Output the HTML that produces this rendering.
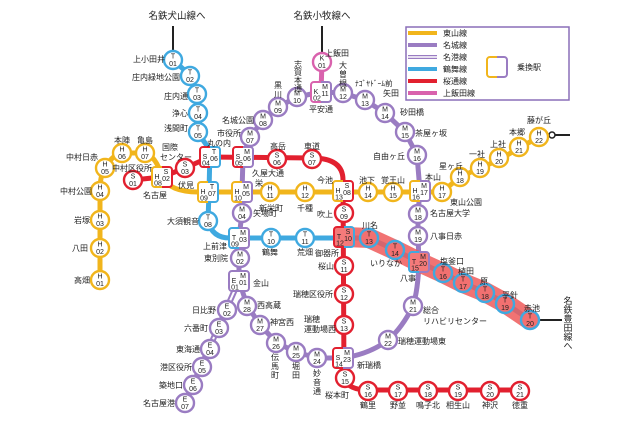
<!DOCTYPE html>
<html><head><meta charset="utf-8"><style>
html,body{margin:0;padding:0;background:#fff}
svg{display:block}
text{font-family:"Liberation Sans","Noto Sans CJK JP",sans-serif;fill:#222}
.st text{font-size:7px;text-anchor:middle;fill:#222}
.st circle{fill:#fff;stroke-width:2.4}
.bx rect{fill:#fff;stroke-width:2}
.bx text{font-size:7px;text-anchor:middle}
.L{font-size:8px}
.m{text-anchor:middle}.e{text-anchor:end}
.y{stroke:#f1b51c}.p{stroke:#9a7cc2}.b{stroke:#3fa9e0}.r{stroke:#e2202f}.k{stroke:#d962ad}
</style></head><body>
<svg width="640" height="426" viewBox="0 0 640 426" xmlns="http://www.w3.org/2000/svg">
<defs>
<linearGradient id="gbr" x1="0" x2="1"><stop offset=".5" stop-color="#e2202f"/><stop offset=".5" stop-color="#3fa9e0"/></linearGradient>
<linearGradient id="gyr" x1="0" x2="1"><stop offset=".5" stop-color="#f1b51c"/><stop offset=".5" stop-color="#e2202f"/></linearGradient>
<linearGradient id="grp" x1="0" x2="1"><stop offset=".5" stop-color="#e2202f"/><stop offset=".5" stop-color="#9a7cc2"/></linearGradient>
<linearGradient id="gyb" x1="0" x2="1"><stop offset=".5" stop-color="#f1b51c"/><stop offset=".5" stop-color="#3fa9e0"/></linearGradient>
<linearGradient id="gyp" x1="0" x2="1"><stop offset=".5" stop-color="#f1b51c"/><stop offset=".5" stop-color="#9a7cc2"/></linearGradient>
<linearGradient id="gkp" x1="0" x2="1"><stop offset=".5" stop-color="#d962ad"/><stop offset=".5" stop-color="#9a7cc2"/></linearGradient>
<linearGradient id="gyr2" x1="0" x2="1"><stop offset=".5" stop-color="#f1b51c"/><stop offset=".5" stop-color="#e2202f"/></linearGradient>
<linearGradient id="gbp" x1="0" x2="1"><stop offset=".5" stop-color="#3fa9e0"/><stop offset=".5" stop-color="#9a7cc2"/></linearGradient>
<linearGradient id="grp2" x1="0" x2="1"><stop offset=".5" stop-color="#e2202f"/><stop offset=".5" stop-color="#9a7cc2"/></linearGradient>
</defs>

<line x1="173" y1="26" x2="173" y2="52" stroke="#222" stroke-width="2"/>
<line x1="322" y1="26" x2="322" y2="54" stroke="#222" stroke-width="2"/>
<line x1="539" y1="320" x2="562" y2="320" stroke="#222" stroke-width="2"/>
<line x1="548" y1="135" x2="570" y2="135" stroke="#222" stroke-width="2"/>
<circle cx="552" cy="135" r="3" fill="#fff" stroke="#222" stroke-width="1.5"/>
<text x="177" y="19" class="m" style="font-size:9.5px">名鉄犬山線へ</text>
<text x="322" y="19" class="m" style="font-size:9.5px">名鉄小牧線へ</text>
<g style="font-size:9px" class="m">
<text x="568" y="304">名</text><text x="568" y="313">鉄</text><text x="568" y="322">豊</text><text x="568" y="331">田</text><text x="568" y="340">線</text><text x="568" y="349">へ</text>
</g>

<g fill="none" stroke-linejoin="round" stroke-linecap="round">
<path class="y" stroke-width="5" d="M100,280 L100,191 Q100,175 105,168 Q112,155 122,153 L145,153 Q156,156 162,177 Q170,192 198,192 L442,192 L460,177 L480,168 L499,160 L519,148 L539,137"/>
<path class="p" stroke-width="5" d="M239,281 L239,238 L242,213 L242,192 L243,157 L250,137 L263,120 L278,107 L297,97 L321,92 L343,93 L365,100 L385,113 L405,132 L417,155 L420,191 L418,213 L418,237 L419,262 Q418,290 413,306 Q402,328 388,340 Q370,354 343,358 L318,358 L295,352 L276,342 L260,325 L247,305 L239,281"/>
<path stroke="#9a7cc2" stroke-width="6" d="M237,285 L185,403"/>
<path stroke="#fff" stroke-width="2" d="M237,285 L185,403"/>
<path class="b" stroke-width="5" d="M173,60 L190,75 L197,93 L198,113 L198,133 L210,150 L209,192 L208,221 Q212,238 230,238 L344,238 L369,238 L395,250 L419,262 L443,273 L463,283 L485,292 L505,303 L530,320"/>
<path class="r" stroke-width="5" d="M133,180 L162,177 L185,168 L210,157 L312,158 Q343,158 343,180 L344,378 Q348,390 368,390 L520,390"/>
<path class="k" stroke-width="5" d="M322,62 L321,92"/>
<path stroke="#ef5a5a" stroke-opacity=".85" stroke-width="20" d="M346,237 L369,238 L395,250 L419,262 L443,273 L463,283 L485,292 L505,303 L530,320"/>
</g>

<rect x="406" y="27" width="163" height="73" fill="#fff" stroke="#8a6fb8" stroke-width="1.5"/>
<g stroke-width="4">
<line x1="408" y1="33" x2="437" y2="33" class="y"/>
<line x1="408" y1="45" x2="437" y2="45" class="p"/>
<line x1="408" y1="57" x2="437" y2="57" stroke="#9a7cc2" stroke-width="4"/>
<line x1="408" y1="57" x2="437" y2="57" stroke="#fff" stroke-width="1.5"/>
<line x1="408" y1="69" x2="437" y2="69" class="b"/>
<line x1="408" y1="81" x2="437" y2="81" class="r"/>
<line x1="408" y1="93" x2="437" y2="93" class="k"/>
</g>
<g class="L"><text x="443" y="36">東山線</text><text x="443" y="48">名城線</text><text x="443" y="60">名港線</text><text x="443" y="72">鶴舞線</text><text x="443" y="84">桜通線</text><text x="443" y="96">上飯田線</text><text x="517" y="70">乗換駅</text></g>
<rect x="487" y="57" width="20" height="20" rx="3" fill="#fff" stroke="url(#gyp)" stroke-width="2"/>

<g class="st">
<g transform="translate(173,60)"><circle r="9" class="b"/><text y="-1.5">T</text><text y="6">01</text></g>
<g transform="translate(190,76)"><circle r="9" class="b"/><text y="-1.5">T</text><text y="6">02</text></g>
<g transform="translate(197,94)"><circle r="9" class="b"/><text y="-1.5">T</text><text y="6">03</text></g>
<g transform="translate(198,113)"><circle r="9" class="b"/><text y="-1.5">T</text><text y="6">04</text></g>
<g transform="translate(198,132)"><circle r="9" class="b"/><text y="-1.5">T</text><text y="6">05</text></g>
<g transform="translate(208,221)"><circle r="9" class="b"/><text y="-1.5">T</text><text y="6">08</text></g>
<g transform="translate(271,238)"><circle r="9" class="b"/><text y="-1.5">T</text><text y="6">10</text></g>
<g transform="translate(305,238)"><circle r="9" class="b"/><text y="-1.5">T</text><text y="6">11</text></g>
<g transform="translate(369,238)"><circle r="9" class="b" style="fill:#f27070"/><text y="-1.5">T</text><text y="6">13</text></g>
<g transform="translate(395,250)"><circle r="9" class="b" style="fill:#f27070"/><text y="-1.5">T</text><text y="6">14</text></g>
<g transform="translate(443,273)"><circle r="9" class="b" style="fill:#f27070"/><text y="-1.5">T</text><text y="6">16</text></g>
<g transform="translate(463,283)"><circle r="9" class="b" style="fill:#f27070"/><text y="-1.5">T</text><text y="6">17</text></g>
<g transform="translate(485,293)"><circle r="9" class="b" style="fill:#f27070"/><text y="-1.5">T</text><text y="6">18</text></g>
<g transform="translate(505,304)"><circle r="9" class="b" style="fill:#f27070"/><text y="-1.5">T</text><text y="6">19</text></g>
<g transform="translate(530,320)"><circle r="9" class="b" style="fill:#f27070"/><text y="-1.5">T</text><text y="6">20</text></g>

<g transform="translate(100,280)"><circle r="9" class="y"/><text y="-1.5">H</text><text y="6">01</text></g>
<g transform="translate(100,248)"><circle r="9" class="y"/><text y="-1.5">H</text><text y="6">02</text></g>
<g transform="translate(100,220)"><circle r="9" class="y"/><text y="-1.5">H</text><text y="6">03</text></g>
<g transform="translate(100,191)"><circle r="9" class="y"/><text y="-1.5">H</text><text y="6">04</text></g>
<g transform="translate(105,168)"><circle r="9" class="y"/><text y="-1.5">H</text><text y="6">05</text></g>
<g transform="translate(122,153)"><circle r="9" class="y"/><text y="-1.5">H</text><text y="6">06</text></g>
<g transform="translate(145,153)"><circle r="9" class="y"/><text y="-1.5">H</text><text y="6">07</text></g>
<g transform="translate(270,192)"><circle r="9" class="y"/><text y="-1.5">H</text><text y="6">11</text></g>
<g transform="translate(305,192)"><circle r="9" class="y"/><text y="-1.5">H</text><text y="6">12</text></g>
<g transform="translate(368,192)"><circle r="9" class="y"/><text y="-1.5">H</text><text y="6">14</text></g>
<g transform="translate(393,192)"><circle r="9" class="y"/><text y="-1.5">H</text><text y="6">15</text></g>
<g transform="translate(442,192)"><circle r="9" class="y"/><text y="-1.5">H</text><text y="6">17</text></g>
<g transform="translate(460,177)"><circle r="9" class="y"/><text y="-1.5">H</text><text y="6">18</text></g>
<g transform="translate(480,168)"><circle r="9" class="y"/><text y="-1.5">H</text><text y="6">19</text></g>
<g transform="translate(499,158)"><circle r="9" class="y"/><text y="-1.5">H</text><text y="6">20</text></g>
<g transform="translate(519,147)"><circle r="9" class="y"/><text y="-1.5">H</text><text y="6">21</text></g>
<g transform="translate(539,137)"><circle r="9" class="y"/><text y="-1.5">H</text><text y="6">22</text></g>

<g transform="translate(133,180)"><circle r="9" class="r"/><text y="-1.5">S</text><text y="6">01</text></g>
<g transform="translate(185,168)"><circle r="9" class="r"/><text y="-1.5">S</text><text y="6">03</text></g>
<g transform="translate(277,159)"><circle r="9" class="r"/><text y="-1.5">S</text><text y="6">06</text></g>
<g transform="translate(312,159)"><circle r="9" class="r"/><text y="-1.5">S</text><text y="6">07</text></g>
<g transform="translate(344,213)"><circle r="9" class="r"/><text y="-1.5">S</text><text y="6">09</text></g>
<g transform="translate(344,266)"><circle r="9" class="r"/><text y="-1.5">S</text><text y="6">11</text></g>
<g transform="translate(344,294)"><circle r="9" class="r"/><text y="-1.5">S</text><text y="6">12</text></g>
<g transform="translate(344,325)"><circle r="9" class="r"/><text y="-1.5">S</text><text y="6">13</text></g>
<g transform="translate(345,378)"><circle r="9" class="r"/><text y="-1.5">S</text><text y="6">15</text></g>
<g transform="translate(368,391)"><circle r="9" class="r"/><text y="-1.5">S</text><text y="6">16</text></g>
<g transform="translate(398,391)"><circle r="9" class="r"/><text y="-1.5">S</text><text y="6">17</text></g>
<g transform="translate(428,391)"><circle r="9" class="r"/><text y="-1.5">S</text><text y="6">18</text></g>
<g transform="translate(458,391)"><circle r="9" class="r"/><text y="-1.5">S</text><text y="6">19</text></g>
<g transform="translate(490,391)"><circle r="9" class="r"/><text y="-1.5">S</text><text y="6">20</text></g>
<g transform="translate(520,391)"><circle r="9" class="r"/><text y="-1.5">S</text><text y="6">21</text></g>

<g transform="translate(240,258)"><circle r="9" class="p"/><text y="-1.5">M</text><text y="6">02</text></g>
<g transform="translate(242,213)"><circle r="9" class="p"/><text y="-1.5">M</text><text y="6">04</text></g>
<g transform="translate(250,137)"><circle r="9" class="p"/><text y="-1.5">M</text><text y="6">07</text></g>
<g transform="translate(263,120)"><circle r="9" class="p"/><text y="-1.5">M</text><text y="6">08</text></g>
<g transform="translate(278,107)"><circle r="9" class="p"/><text y="-1.5">M</text><text y="6">09</text></g>
<g transform="translate(297,97)"><circle r="9" class="p"/><text y="-1.5">M</text><text y="6">10</text></g>
<g transform="translate(343,93)"><circle r="9" class="p"/><text y="-1.5">M</text><text y="6">12</text></g>
<g transform="translate(365,100)"><circle r="9" class="p"/><text y="-1.5">M</text><text y="6">13</text></g>
<g transform="translate(385,113)"><circle r="9" class="p"/><text y="-1.5">M</text><text y="6">14</text></g>
<g transform="translate(405,132)"><circle r="9" class="p"/><text y="-1.5">M</text><text y="6">15</text></g>
<g transform="translate(417,155)"><circle r="9" class="p"/><text y="-1.5">M</text><text y="6">16</text></g>
<g transform="translate(418,214)"><circle r="9" class="p"/><text y="-1.5">M</text><text y="6">18</text></g>
<g transform="translate(418,236)"><circle r="9" class="p"/><text y="-1.5">M</text><text y="6">19</text></g>
<g transform="translate(413,306)"><circle r="9" class="p"/><text y="-1.5">M</text><text y="6">21</text></g>
<g transform="translate(388,340)"><circle r="9" class="p"/><text y="-1.5">M</text><text y="6">22</text></g>
<g transform="translate(317,358)"><circle r="9" class="p"/><text y="-1.5">M</text><text y="6">24</text></g>
<g transform="translate(296,352)"><circle r="9" class="p"/><text y="-1.5">M</text><text y="6">25</text></g>
<g transform="translate(276,343)"><circle r="9" class="p"/><text y="-1.5">M</text><text y="6">26</text></g>
<g transform="translate(260,325)"><circle r="9" class="p"/><text y="-1.5">M</text><text y="6">27</text></g>
<g transform="translate(247,306)"><circle r="9" class="p"/><text y="-1.5">M</text><text y="6">28</text></g>

<g transform="translate(227,310)"><circle r="9" class="p"/><text y="-1.5">E</text><text y="6">02</text></g>
<g transform="translate(219,328)"><circle r="9" class="p"/><text y="-1.5">E</text><text y="6">03</text></g>
<g transform="translate(210,349)"><circle r="9" class="p"/><text y="-1.5">E</text><text y="6">04</text></g>
<g transform="translate(202,367)"><circle r="9" class="p"/><text y="-1.5">E</text><text y="6">05</text></g>
<g transform="translate(193,385)"><circle r="9" class="p"/><text y="-1.5">E</text><text y="6">06</text></g>
<g transform="translate(185,403)"><circle r="9" class="p"/><text y="-1.5">E</text><text y="6">07</text></g>

<g transform="translate(322,62)"><circle r="9" class="k"/><text y="-1.5">K</text><text y="6">01</text></g>
</g>

<g class="bx">
<g transform="translate(210,157)"><rect x="-10" y="-10" width="20" height="20" rx="3" stroke="url(#gbr)"/><text x="4" y="-3">T</text><text x="4" y="4">06</text><text x="-5" y="2">S</text><text x="-4" y="8.5">04</text></g>
<g transform="translate(162,177)"><rect x="-10" y="-10" width="20" height="20" rx="3" stroke="url(#gyr)"/><text x="4" y="-3">S</text><text x="4" y="4">02</text><text x="-5" y="2">H</text><text x="-4" y="8.5">08</text></g>
<g transform="translate(243,157)"><rect x="-10" y="-10" width="20" height="20" rx="3" stroke="url(#grp)"/><text x="4" y="-3">M</text><text x="4" y="4">06</text><text x="-5" y="2">S</text><text x="-4" y="8.5">05</text></g>
<g transform="translate(208,192)"><rect x="-10" y="-10" width="20" height="20" rx="3" stroke="url(#gyb)"/><text x="4" y="-3">T</text><text x="4" y="4">07</text><text x="-5" y="2">H</text><text x="-4" y="8.5">09</text></g>
<g transform="translate(242,192)"><rect x="-10" y="-10" width="20" height="20" rx="3" stroke="url(#gyp)"/><text x="4" y="-3">M</text><text x="4" y="4">05</text><text x="-5" y="2">H</text><text x="-4" y="8.5">10</text></g>
<g transform="translate(321,92)"><rect x="-10" y="-10" width="20" height="20" rx="3" stroke="url(#gkp)"/><text x="4" y="-3">M</text><text x="4" y="4">11</text><text x="-5" y="2">K</text><text x="-4" y="8.5">02</text></g>
<g transform="translate(343,191)"><rect x="-10" y="-10" width="20" height="20" rx="3" stroke="url(#gyr2)"/><text x="4" y="-3">S</text><text x="4" y="4">08</text><text x="-5" y="2">H</text><text x="-4" y="8.5">13</text></g>
<g transform="translate(420,191)"><rect x="-10" y="-10" width="20" height="20" rx="3" stroke="url(#gyp)"/><text x="4" y="-3">M</text><text x="4" y="4">17</text><text x="-5" y="2">H</text><text x="-4" y="8.5">16</text></g>
<g transform="translate(344,237)"><rect x="-10" y="-10" width="20" height="20" rx="3" stroke="url(#gbr)" style="fill:#f47a7a"/><text x="4" y="-3">S</text><text x="4" y="4">10</text><text x="-5" y="2">T</text><text x="-4" y="8.5">12</text></g>
<g transform="translate(419,262)"><rect x="-10" y="-10" width="20" height="20" rx="3" stroke="url(#gbp)" style="fill:#f47a7a"/><text x="4" y="-3">M</text><text x="4" y="4">20</text><text x="-5" y="2">T</text><text x="-4" y="8.5">15</text></g>
<g transform="translate(239,238)"><rect x="-10" y="-10" width="20" height="20" rx="3" stroke="url(#gbp)"/><text x="4" y="-3">M</text><text x="4" y="4">03</text><text x="-5" y="2">T</text><text x="-4" y="8.5">09</text></g>
<g transform="translate(239,281)"><rect x="-10" y="-10" width="20" height="20" rx="3" stroke="#9a7cc2"/><text x="4" y="-3">M</text><text x="4" y="4">01</text><text x="-5" y="2">E</text><text x="-4" y="8.5">01</text></g>
<g transform="translate(343,358)"><rect x="-10" y="-10" width="20" height="20" rx="3" stroke="url(#grp2)"/><text x="4" y="-3">M</text><text x="4" y="4">23</text><text x="-5" y="2">S</text><text x="-4" y="8.5">14</text></g>
</g>

<g class="L">
<text x="165" y="62" class="e">上小田井</text>
<text x="180" y="80" class="e">庄内緑地公園</text>
<text x="188" y="99" class="e">庄内通</text>
<text x="188" y="116" class="e">浄心</text>
<text x="188" y="131" class="e">浅間町</text>
<text x="219" y="146" class="m">丸の内</text>
<text x="170" y="150" class="m">国際</text>
<text x="176" y="160" class="m">センター</text>
<text x="132" y="171" class="m">中村区役所</text>
<text x="155" y="198" class="m">名古屋</text>
<text x="122" y="143" class="m">本陣</text>
<text x="145" y="143" class="m">亀島</text>
<text x="82" y="160" class="m">中村日赤</text>
<text x="76" y="194" class="m">中村公園</text>
<text x="90" y="223" class="e">岩塚</text>
<text x="88" y="251" class="e">八田</text>
<text x="90" y="283" class="e">高畑</text>
<text x="186" y="188" class="m">伏見</text>
<text x="199" y="224" class="e">大須観音</text>
<text x="227" y="249" class="e">上前津</text>
<text x="228" y="261" class="e">東別院</text>
<text x="253" y="286">金山</text>
<text x="229" y="136" class="m">市役所</text>
<text x="254" y="123" class="e">名城公園</text>
<text x="278" y="88" class="m">黒</text><text x="278" y="97" class="m">川</text>
<text x="298" y="67" class="m">志</text><text x="298" y="75" class="m">賀</text><text x="298" y="83" class="m">本</text><text x="298" y="91" class="m">通</text>
<text x="278" y="149" class="m">高岳</text>
<text x="312" y="149" class="m">車道</text>
<text x="268" y="176" class="m">久屋大通</text>
<text x="255" y="186">栄</text>
<text x="271" y="211" class="m">新栄町</text>
<text x="305" y="211" class="m">千種</text>
<text x="253" y="216">矢場町</text>
<text x="325" y="183" class="m">今池</text>
<text x="333" y="217" class="e">吹上</text>
<text x="327" y="256" class="m">御器所</text>
<text x="334" y="269" class="e">桜山</text>
<text x="333" y="297" class="e">瑞穂区役所</text>
<text x="304" y="322">瑞穂</text>
<text x="304" y="332">運動場西</text>
<text x="337" y="398" class="m">桜本町</text>
<text x="368" y="408" class="m">鶴里</text>
<text x="398" y="408" class="m">野並</text>
<text x="428" y="408" class="m">鳴子北</text>
<text x="458" y="408" class="m">相生山</text>
<text x="490" y="408" class="m">神沢</text>
<text x="520" y="408" class="m">徳重</text>
<text x="357" y="368">新瑞橋</text>
<text x="398" y="344">瑞穂運動場東</text>
<text x="423" y="313">総合</text>
<text x="423" y="324">リハビリセンター</text>
<text x="400" y="281">八事</text>
<text x="402" y="266" class="e">いりなか</text>
<text x="370" y="228" class="m">川名</text>
<text x="452" y="264" class="m">塩釜口</text>
<text x="466" y="274" class="m">植田</text>
<text x="484" y="284" class="m">原</text>
<text x="510" y="298" class="m">平針</text>
<text x="532" y="311" class="m">赤池</text>
<text x="430" y="239">八事日赤</text>
<text x="430" y="216">名古屋大学</text>
<text x="405" y="159" class="e">自由ヶ丘</text>
<text x="415" y="136">茶屋ヶ坂</text>
<text x="400" y="115">砂田橋</text>
<text x="355" y="86" style="font-size:7.5px">ﾅｺﾞﾔﾄﾞｰﾑ前</text>
<text x="383" y="96">矢田</text>
<text x="343" y="68" class="m">大</text><text x="343" y="77" class="m">曽</text><text x="343" y="86" class="m">根</text>
<text x="325" y="56">上飯田</text>
<text x="321" y="112" class="m">平安通</text>
<text x="425" y="180">本山</text>
<text x="450" y="205">東山公園</text>
<text x="451" y="169" class="m">星ヶ丘</text>
<text x="477" y="157" class="m">一社</text>
<text x="498" y="147" class="m">上社</text>
<text x="517" y="135" class="m">本郷</text>
<text x="539" y="123" class="m">藤が丘</text>
<text x="367" y="183" class="m">池下</text>
<text x="393" y="183" class="m">覚王山</text>
<text x="270" y="255" class="m">鶴舞</text>
<text x="305" y="255" class="m">荒畑</text>
<text x="257" y="308">西高蔵</text>
<text x="270" y="325">神宮西</text>
<text x="275" y="360" class="m">伝</text><text x="275" y="369" class="m">馬</text><text x="275" y="378" class="m">町</text>
<text x="296" y="369" class="m">堀</text><text x="296" y="378" class="m">田</text>
<text x="317" y="376" class="m">妙</text><text x="317" y="385" class="m">音</text><text x="317" y="394" class="m">通</text>
<text x="216" y="313" class="e">日比野</text>
<text x="208" y="331" class="e">六番町</text>
<text x="200" y="352" class="e">東海通</text>
<text x="192" y="370" class="e">港区役所</text>
<text x="183" y="388" class="e">築地口</text>
<text x="175" y="406" class="e">名古屋港</text>
</g>
</svg>
</body></html>
